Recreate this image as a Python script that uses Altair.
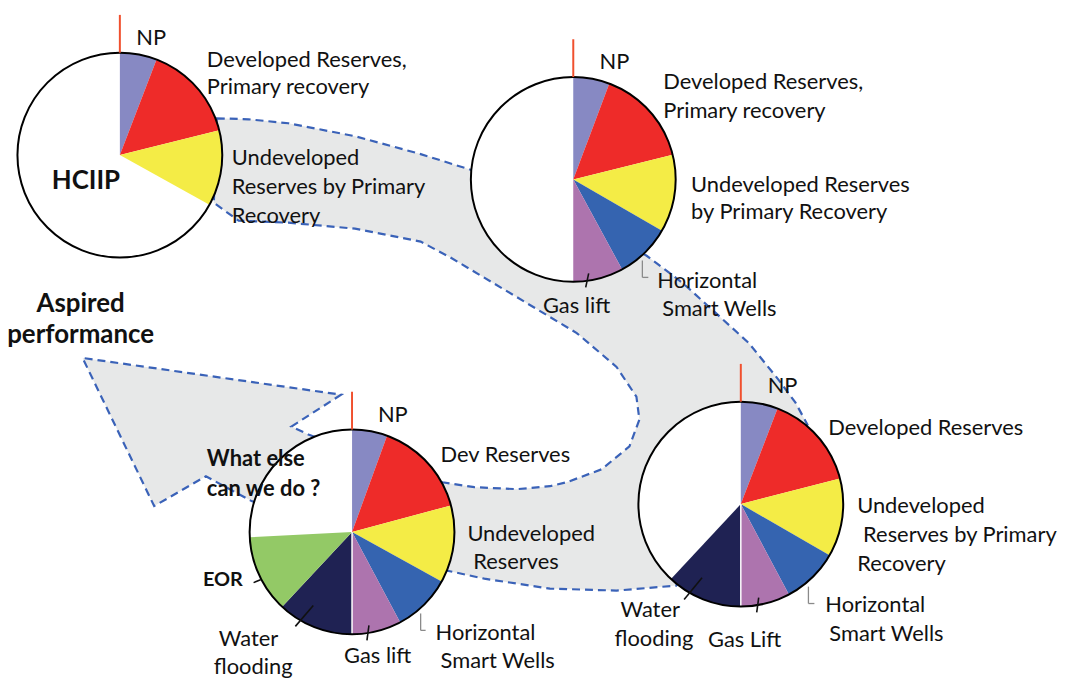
import altair as alt
import pandas as pd

W, H = 1056, 674
FONT = "Lato"

# ---- pies -------------------------------------------------------------
pie_id = ["HCIIP", "Stage2", "Stage3", "Stage4"]
pie_cx = [120.5, 576.5, 745.0, 354.0]
pie_cy = [154.0, 178.5, 505.0, 533.0]
pie_r = 103

slice_names = ["NP", "Developed", "Undeveloped", "Horizontal", "Gas lift", "Water flooding", "EOR"]
slice_colors = ["#8789C3", "#EE2B29", "#F4EC46", "#3564B0", "#AD74AE", "#1F2253", "#93C966"]
# cumulative end angle (degrees, clockwise from 12 o'clock) of each slice per pie
slice_ends = [
    [21, 76, 119],
    [20.6, 76, 120, 151.5, 180],
    [21, 75.5, 120, 152, 180, 223],
    [20, 75, 119, 152, 180, 223, 267],
]

# red marker above each pie
red_len = 38

# ---- labels -----------------------------------------------------------
lab_text = ["NP", "Developed Reserves,", "Primary recovery", "Undeveloped", "Reserves by Primary", "Recovery",
            "NP", "Developed  Reserves,", "Primary recovery", "Undeveloped Reserves", "by Primary Recovery",
            "Horizontal", "Smart Wells", "Gas lift",
            "NP", "Developed Reserves", "Undeveloped", "Reserves by Primary", "Recovery",
            "Horizontal", "Smart Wells", "Gas Lift", "Water", "flooding",
            "NP", "Dev Reserves", "Undeveloped", "Reserves", "Horizontal", "Smart Wells",
            "Gas lift", "Water", "flooding"]
lab_x = [137, 208, 208, 233, 233, 233,
         603, 667, 667, 695, 695,
         661, 666, 546,
         772, 833, 862, 868, 862,
         830, 834, 712, 624, 618,
         380, 443, 470, 476, 438, 443,
         346, 220, 215]
lab_y = [43, 65, 93, 164, 193, 222,
         67, 88, 117, 191, 218,
         288, 316, 313,
         393, 436, 514, 543, 572,
         614, 643, 649, 619, 648,
         422, 463, 542, 570, 642, 670,
         665, 648, 676]

bold_text = ["HCIIP", "What else", "can we do ?", "EOR"]
bold_x = [52, 208, 208, 204]
bold_y = [188, 467, 497, 587]
bold_size = [26, 22, 22, 20]

aspire_text = ["Aspired", "performance"]
aspire_x = [81, 81]
aspire_y = [312, 343]

# leader lines
black_x1 = [592, 706, 763, 255, 315, 371]
black_y1 = [273, 579, 599, 584, 607, 627]
black_x2 = [589, 688, 761, 262, 297, 369]
black_y2 = [287, 601, 614, 581, 628, 642]
grey_x1 = [646, 646, 813, 813, 423, 423]
grey_y1 = [260, 277, 588, 605, 615, 632]
grey_x2 = [646, 652, 813, 819, 423, 428]
grey_y2 = [277, 277, 605, 605, 632, 632]

# gray curved arrow outline (image pixel coordinates)
arrow_x = [218, 250, 290, 357, 423, 474,
           650, 687, 720, 753, 783, 800, 812,
           680, 620, 553, 487, 450,
           253, 207, 155, 83, 343, 293, 310,
           445, 477, 520, 553, 570, 605, 633, 643, 640, 620, 580, 520, 453, 423, 357, 290, 240, 215]
arrow_y = [117, 118, 122, 135, 153, 169,
           255, 283, 313, 343, 380, 403, 425,
           587, 592, 590, 580, 572,
           502, 477, 507, 358, 395, 427, 435,
           483, 488, 490, 487, 483, 470, 447, 420, 397, 367, 333, 297, 257, 241, 228, 222, 220, 202]

# ---- build tables -----------------------------------------------------
disc_df = pd.DataFrame({"pie": pie_id, "cx": pie_cx, "cy": pie_cy, "start": 0, "end": 360})

rows = []
for pid, cx, cy, ends in zip(pie_id, pie_cx, pie_cy, slice_ends):
    prev = 0
    for name, e in zip(slice_names, ends):
        rows.append({"pie": pid, "cx": cx, "cy": cy, "slice": name, "start": prev, "end": e})
        prev = e
slice_df = pd.DataFrame(rows)

red_df = pd.DataFrame({"cx": pie_cx, "top": [c - pie_r for c in pie_cy]})
red_df["top2"] = red_df["top"] - red_len

sep_df = pd.DataFrame({"cx": pie_cx[2:], "cy": pie_cy[2:]})
sep_df["bot"] = sep_df["cy"] + pie_r

lab_df = pd.DataFrame({"t": lab_text, "x": lab_x, "y": lab_y})
bold_df = pd.DataFrame({"t": bold_text, "x": bold_x, "y": bold_y, "s": bold_size})
asp_df = pd.DataFrame({"t": aspire_text, "x": aspire_x, "y": aspire_y})
black_df = pd.DataFrame({"x": black_x1, "y": black_y1, "x2": black_x2, "y2": black_y2})
grey_df = pd.DataFrame({"x": grey_x1, "y": grey_y1, "x2": grey_x2, "y2": grey_y2})

ring = [[x, y] for x, y in zip(arrow_x, arrow_y)]
ring.append(ring[0])
feature = {"type": "Feature", "properties": {}, "geometry": {"type": "Polygon", "coordinates": [ring]}}

xs = alt.Scale(domain=[8, 8 + W], nice=False, zero=False)
ys = alt.Scale(domain=[8, 8 + H], nice=False, zero=False, reverse=True)
ts = alt.Scale(domain=[0, 360], range=[0, 6.283185307179586])

X = lambda f: alt.X(f, type="quantitative", scale=xs, axis=None)
Y = lambda f: alt.Y(f, type="quantitative", scale=ys, axis=None)

band = alt.Chart(alt.Data(values=[feature])).mark_geoshape(
    fill="#E7E8E8", stroke="#3A62B8", strokeWidth=2.2, strokeDash=[8, 5]
).project(type="identity", scale=1, translate=[-8, -8])

discs = alt.Chart(disc_df).mark_arc(radius=pie_r, fill="white", stroke=None).encode(
    x=X("cx"), y=Y("cy"), theta=alt.Theta("start:Q", scale=ts), theta2="end:Q")

slices = alt.Chart(slice_df).mark_arc(radius=pie_r, stroke=None).encode(
    x=X("cx"), y=Y("cy"), theta=alt.Theta("start:Q", scale=ts), theta2="end:Q",
    color=alt.Color("slice:N", scale=alt.Scale(domain=slice_names, range=slice_colors), legend=None))

seps = alt.Chart(sep_df).mark_rule(color="white", strokeWidth=1.5).encode(
    x=X("cx"), y=Y("cy"), y2="bot:Q")

outline = alt.Chart(disc_df).mark_arc(radius=pie_r, fill=None, filled=False, stroke="black", strokeWidth=2).encode(
    x=X("cx"), y=Y("cy"), theta=alt.Theta("start:Q", scale=ts), theta2="end:Q")

reds = alt.Chart(red_df).mark_rule(color="#F0502E", strokeWidth=2).encode(
    x=X("cx"), y=Y("top2"), y2="top:Q")

black_leads = alt.Chart(black_df).mark_rule(strokeWidth=1.6, color="#111111").encode(
    x=X("x"), y=Y("y"), x2="x2:Q", y2="y2:Q")

grey_leads = alt.Chart(grey_df).mark_rule(strokeWidth=1.3, color="#8A8A8A").encode(
    x=X("x"), y=Y("y"), x2="x2:Q", y2="y2:Q")

labels = alt.Chart(lab_df).mark_text(align="left", baseline="alphabetic", font=FONT, fontSize=22, color="#111111").encode(
    x=X("x"), y=Y("y"), text="t:N")

bolds = alt.Chart(bold_df).mark_text(align="left", baseline="alphabetic", font=FONT, fontWeight="bold", color="#111111").encode(
    x=X("x"), y=Y("y"), text="t:N", size=alt.Size("s:Q", scale=None))

aspire = alt.Chart(asp_df).mark_text(align="center", baseline="alphabetic", font=FONT, fontWeight="bold", fontSize=26, color="#111111").encode(
    x=X("x"), y=Y("y"), text="t:N")

chart = alt.layer(band, discs, slices, seps, outline, reds, black_leads, grey_leads, labels, bolds, aspire).properties(
    width=W, height=H, padding=0, autosize=alt.AutoSizeParams(type="none")
).configure_view(stroke=None)

chart.save("out.html", embed_options={"renderer": "svg", "actions": False})
